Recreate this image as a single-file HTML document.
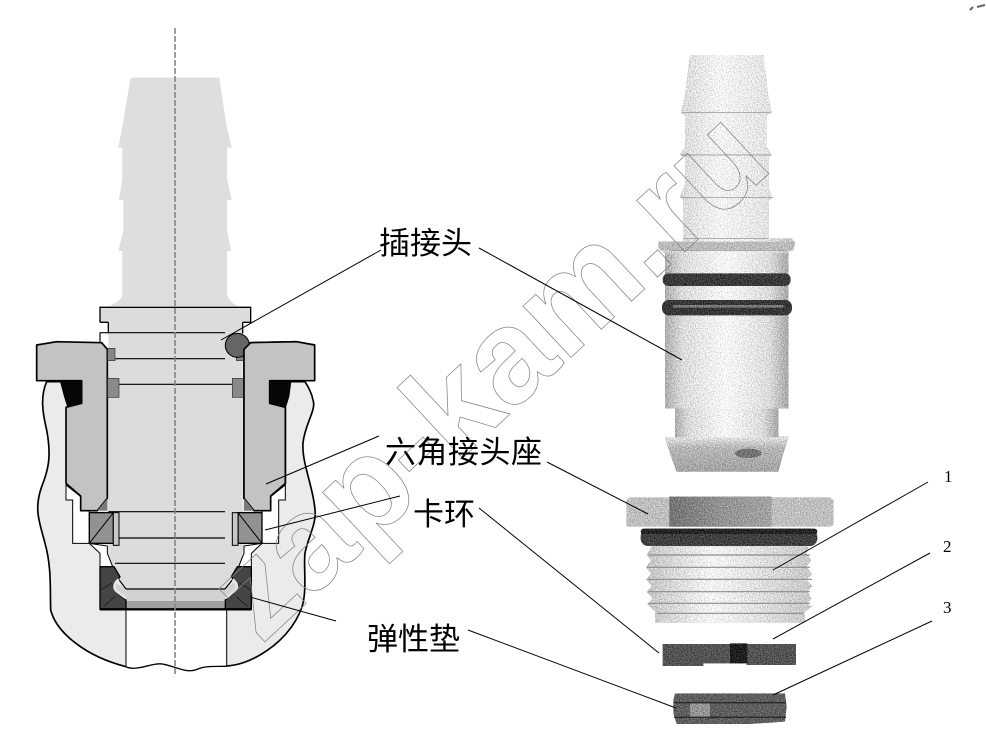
<!DOCTYPE html>
<html lang="zh"><head><meta charset="utf-8"><title>Diagram</title>
<style>html,body{margin:0;padding:0;background:#fff}svg{display:block}</style></head>
<body>
<svg xmlns="http://www.w3.org/2000/svg" width="986" height="756" viewBox="0 0 986 756">
<defs>
<filter id="g" x="-5%" y="-5%" width="110%" height="110%" color-interpolation-filters="sRGB">
<feTurbulence type="fractalNoise" baseFrequency="0.28" numOctaves="2" seed="4" result="n"/>
<feColorMatrix in="n" type="matrix" values="1 0 0 0 0 1 0 0 0 0 1 0 0 0 0 0 0 0 0 1" result="m"/>
<feComposite in="SourceGraphic" in2="m" operator="arithmetic" k1="0" k2="1" k3="0.6" k4="-0.29" result="r"/>
<feComposite in="r" in2="SourceAlpha" operator="in"/>
</filter>
<linearGradient id="pl" x1="0" x2="1" y1="0" y2="0">
<stop offset="0" stop-color="#aaa"/><stop offset=".14" stop-color="#d8d8d8"/><stop offset=".5" stop-color="#f8f8f8"/><stop offset=".85" stop-color="#d8d8d8"/><stop offset="1" stop-color="#a4a4a4"/>
</linearGradient>
<linearGradient id="tp" x1="0" x2="1" y1="0" y2="0">
<stop offset="0" stop-color="#c4c4c4"/><stop offset=".45" stop-color="#f4f4f4"/><stop offset=".8" stop-color="#e0e0e0"/><stop offset="1" stop-color="#bcbcbc"/>
</linearGradient>
<linearGradient id="hx" x1="0" x2="1" y1="0" y2="0">
<stop offset="0" stop-color="#707070"/><stop offset=".5" stop-color="#909090"/><stop offset="1" stop-color="#a0a0a0"/>
</linearGradient>
<linearGradient id="th" x1="0" x2="1" y1="0" y2="0">
<stop offset="0" stop-color="#c0c0c0"/><stop offset=".4" stop-color="#f4f4f4"/><stop offset="1" stop-color="#c4c4c4"/>
</linearGradient>
<linearGradient id="hd" x1="0" x2="0" y1="0" y2="1">
<stop offset="0" stop-color="#e0e0e0"/><stop offset=".3" stop-color="#b4b4b4"/><stop offset="1" stop-color="#a0a0a0"/>
</linearGradient>
<g id="half">
<path d="M138,585 L182,620 V662 H208 V760 H158 V630 H138 Z" fill="#fff" stroke="#000" stroke-width="3"/>
<path d="M208,760 L240,790 V830 H278 L262,790 V768 Z" fill="#fff" stroke="#000" stroke-width="3"/>
<path d="M50,165 L110,155 L245,158 L262,178 V625 L232,662 H182 V618 L138,580 V352 L185,340 V272 H50 Z" fill="#c3c3c3" stroke="#000" stroke-width="5" stroke-linejoin="round"/>
<path d="M120,275 H185 V340 L142,352 L132,320 Z" fill="#060606"/>
<path d="M232,662 L262,625 V662 Z" fill="#7a7a7a"/>
<rect x="208" y="668" width="72" height="92" fill="#929292" stroke="#000" stroke-width="4"/>
<path d="M208,760 L280,668" stroke="#000" stroke-width="3"/>
<rect x="280" y="668" width="17" height="98" fill="#c8c8c8" stroke="#000" stroke-width="3"/>
<path d="M240,830 H282 L300,860 L280,885 L290,908 L318,930 V958 H240 Z" fill="#454545" stroke="#000" stroke-width="4" stroke-linejoin="round"/>
<path d="M296,868 Q272,888 292,906 L318,925" fill="none" stroke="#e8e8e8" stroke-width="7"/>
<path d="M240,900 L275,880 M250,950 L285,920" stroke="#111" stroke-width="2"/>
<rect x="263" y="175" width="22" height="37" fill="#868686" stroke="#333" stroke-width="2"/>
<rect x="263" y="265" width="34" height="57" fill="#8a8a8a" stroke="#333" stroke-width="2"/>
</g>
</defs>
<rect width="986" height="756" fill="#fff"/>

<!-- nipple -->
<g transform="translate(90,20) scale(.33333)">
<path d="M122,173 H388 L410,320 L425,383 H411 V475 L425,540 H411 V630 L423,693 H411 V825 Q420,850 445,858 H60 Q95,840 97,825 V693 H85 L100,630 V540 H87 L97,475 V383 H85 L97,320 Z" fill="#dedede"/>
</g>

<!-- section -->
<g transform="translate(20,290) scale(.33333)">
<path d="M80,275 C60,320 68,370 80,420 C95,500 85,540 65,590 C40,660 60,700 75,760 C95,830 90,900 92,960 C110,1030 200,1100 318,1130 C350,1145 400,1115 430,1122 C470,1130 500,1150 530,1138 C560,1125 590,1130 620,1128 C660,1125 690,1112 720,1095 C780,1060 825,1010 846,951 C862,900 850,830 855,789 C865,740 890,700 885,660 C880,590 845,520 849,459 C855,400 890,360 879,330 C875,310 868,295 855,275 Z" fill="#ebebeb" stroke="#000" stroke-width="5"/>
<path d="M318,958 H620 V1128 C590,1130 560,1125 530,1138 C500,1150 470,1130 430,1122 C400,1115 350,1145 318,1130 Z" fill="#fff"/>
<path d="M318,958 V1130 M620,958 V1128" stroke="#222" stroke-width="3.5"/>
<path d="M318,1130 C350,1145 400,1115 430,1122 C470,1130 500,1150 530,1138 C560,1125 590,1130 620,1128" fill="none" stroke="#000" stroke-width="3"/>
<path d="M240,52 H692 V97 H240 Z" fill="#dcdcdc"/>
<rect x="265" y="97" width="403" height="671" fill="#dcdcdc"/>
<path d="M265,768 L265,800 L290,860 L318,897 H615 L645,860 L668,800 V768 Z" fill="#dcdcdc"/>
<path d="M290,880 L318,897 H615 L650,870 L668,935 H270 Z" fill="#d2d2d2"/>
<rect x="300" y="933" width="330" height="22" fill="#a0a0a0"/>
<path d="M240,97 V52 H692 V97 H668 M240,97 H265 M265,97 V130 M668,97 V130" fill="none" stroke="#000" stroke-width="4"/>
<path d="M240,128 H615 M240,128 V156 M265,206 H615 M265,283 H672 M265,665 H615 M240,744 H615 M285,820 H615 M318,897 H615" stroke="#000" stroke-width="3.5" fill="none"/>
<path d="M265,800 L290,860 L318,897 M668,800 L645,860 L615,897" fill="none" stroke="#000" stroke-width="3.5"/>
<use href="#half"/>
<use href="#half" transform="translate(934,0) scale(-1,1)"/>
<circle cx="652" cy="166" r="36" fill="#666" stroke="#000" stroke-width="3"/>
<path d="M672,625 V178 L692,158 L830,155 L884,165 V272 H749 V340 L796,352 V580 L752,618 V662 H702 L672,625 Z" fill="#c3c3c3" stroke="#000" stroke-width="5" stroke-linejoin="round"/>
<path d="M814,275 H749 V340 L798,352 L808,320 Z" fill="#060606"/>
<path d="M702,662 L672,625 V662 Z" fill="#7a7a7a"/>
<path d="M240,958 H694" stroke="#000" stroke-width="7"/>
</g>

<!-- center line -->
<path d="M175,28 V676" stroke="#858585" stroke-width="1.6" stroke-dasharray="6 2" fill="none"/>

<!-- photo plug -->
<g transform="translate(620,40) scale(.33333)">
<g filter="url(#g)">
<path d="M210,45 H430 L445,170 L455,220 L440,225 V320 L455,345 L445,350 V440 L458,475 L445,480 V595 H515 L525,610 L520,630 L505,635 V1105 H475 V1190 H505 L490,1240 L475,1295 H170 L150,1240 L135,1195 H165 V1105 H135 V640 L115,625 V605 H190 V480 L180,470 L195,435 V350 L180,345 L195,320 V225 L182,220 L195,170 Z" fill="url(#tp)"/>
<rect x="135" y="640" width="370" height="465" fill="url(#pl)"/>
<rect x="165" y="1105" width="310" height="88" fill="url(#pl)"/>
<path d="M115,605 H525 L520,630 H120 Z" fill="#b8b8b8"/>
<path d="M135,1192 H505 L490,1240 L475,1295 H170 L150,1240 Z" fill="url(#hd)"/>
<ellipse cx="385" cy="1240" rx="40" ry="14" fill="#707070"/>
<rect x="128" y="700" width="384" height="38" rx="17" fill="#383838"/>
<rect x="126" y="780" width="390" height="46" rx="20" fill="#343434"/>
<rect x="160" y="795" width="330" height="8" fill="#777"/>
</g>
<path d="M185,218 H452 M182,345 H455 M182,472 H458 M190,595 H445 M150,632 H500" stroke="#888" stroke-width="2" fill="none"/>
</g>

<!-- photo seat & rings -->
<g transform="translate(610,480) scale(.33333)">
<g filter="url(#g)">
<path d="M60,52 H660 L670,60 V135 L660,140 H50 V60 Z" fill="#bcbcbc"/>
<rect x="178" y="50" width="307" height="90" fill="url(#hx)"/>
<path d="M125,200 H595 L590,222 L603,240 L590,260 L606,282 L590,300 L606,318 L592,335 L604,355 L590,372 L606,380 L585,395 V428 H135 V395 L112,372 L128,355 L110,335 L126,318 L108,298 L124,282 L108,262 L124,240 L110,225 Z" fill="url(#th)"/>
<rect x="92" y="146" width="530" height="52" rx="22" fill="#3e3e3e"/>
<rect x="92" y="146" width="530" height="16" rx="8" fill="#222"/>
<path d="M158,492 H558 V555 H410 V550 H280 V558 H158 Z" fill="#515151"/>
<rect x="360" y="490" width="52" height="60" fill="#1c1c1c"/>
<path d="M195,640 H525 L530,680 L525,725 L420,732 H200 L190,700 V660 Z" fill="#5c5c5c"/>
<rect x="240" y="670" width="60" height="40" fill="#929292"/>
</g>
<path d="M115,225 H600 M110,262 H600 M112,298 H606 M115,335 H600 M115,370 H600 M140,400 H580" stroke="#8c8c8c" stroke-width="3.5" fill="none"/>
<path d="M192,668 H528 M192,712 H528" stroke="#2b2b2b" stroke-width="4" fill="none"/>
</g>

<!-- watermark -->
<text transform="translate(261,645.5) rotate(-42.9)" font-family="'Liberation Sans',sans-serif" font-weight="700" font-size="133" fill="none" stroke="#848484" stroke-width=".75">zap-kam.ru</text>

<!-- leaders -->
<g stroke="#000" stroke-width="1" fill="none">
<path d="M381,250 L221,340"/>
<path d="M479,248 L682,360"/>
<path d="M379,436 L266,484"/>
<path d="M547,462 L648,514"/>
<path d="M400,496 L265,530"/>
<path d="M479,508 L659,653"/>
<path d="M336,621 L250,597"/>
<path d="M468,630 L676,708"/>
<path d="M928,482 L773,570"/>
<path d="M930,553 L773,639"/>
<path d="M932,621 L773,695"/>
</g>

<!-- labels -->
<g font-family="'Liberation Sans','Noto Sans CJK SC',sans-serif" font-size="31" fill="#000">
<text x="379" y="254">插接头</text>
<text x="385" y="463" textLength="157">六角接头座</text>
<text x="413" y="525">卡环</text>
<text x="367" y="650">弹性垫</text>
</g>
<g font-family="'Liberation Serif',serif" font-size="17" fill="#000">
<text x="944" y="482">1</text>
<text x="943" y="552">2</text>
<text x="943" y="613">3</text>
</g>
<path d="M970,10 L973,7 M977,7 L985,5" stroke="#666" stroke-width="2" fill="none"/>
</svg>
</body></html>
